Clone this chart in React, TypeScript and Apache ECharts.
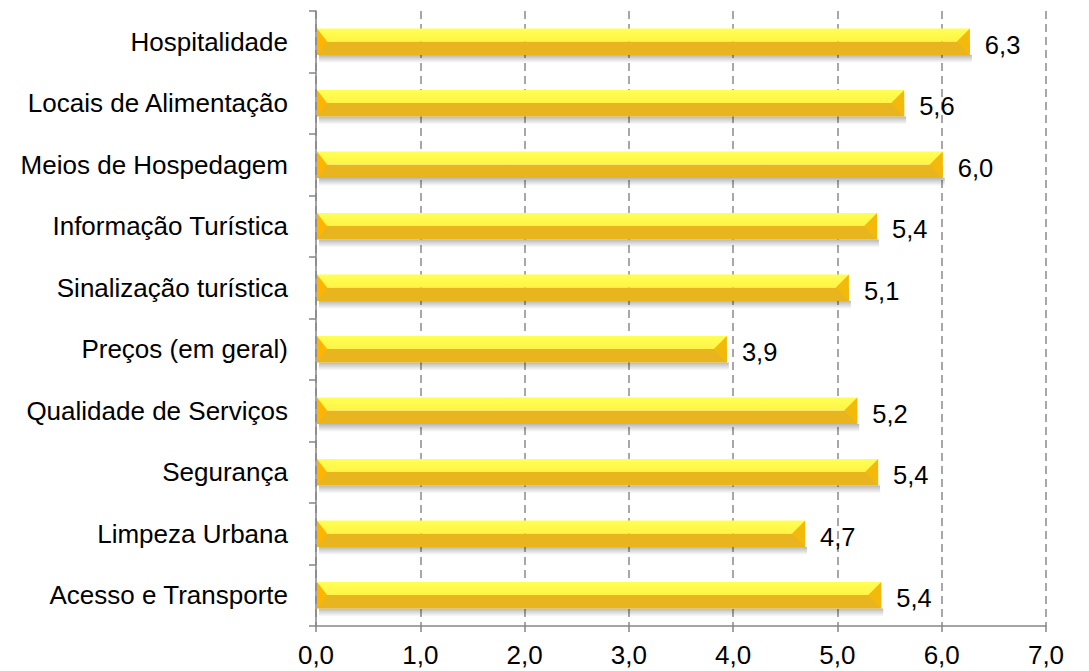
import React, { useEffect, useRef } from "react";
import * as echarts from "echarts";

const categories = [
  "Hospitalidade",
  "Locais de Alimentação",
  "Meios de Hospedagem",
  "Informação Turística",
  "Sinalização turística",
  "Preços (em geral)",
  "Qualidade de Serviços",
  "Segurança",
  "Limpeza Urbana",
  "Acesso e Transporte",
];
const values = [6.27, 5.64, 6.01, 5.38, 5.11, 3.94, 5.19, 5.39, 4.69, 5.42];
const xMin = 0;
const xMax = 7;
const xStep = 1;

const FONT = "'Liberation Sans', Arial, sans-serif";
const fmt = (v: number) => v.toFixed(1).replace(".", ",");

export default function App() {
  const ref = useRef<HTMLDivElement>(null);
  useEffect(() => {
    if (!ref.current) return;
    const chart = echarts.init(ref.current, null, { renderer: "svg" });
    const renderItem = (params: any, api: any) => {
      const idx = api.value(1);
      const v = api.value(0);
      const start = api.coord([0, idx]);
      const end = api.coord([v, idx]);
      const band = api.size([0, 1])[1];
      const h = band * 0.43;
      const cy = start[1];
      const top = cy - h / 2;
      const bottom = top + h;
      const mid = top + h * 0.49;
      const x0 = start[0] + 1;
      const x1 = end[0];
      return {
        type: "group",
        children: [
          {
            type: "rect",
            shape: { x: x0 + 2, y: bottom, width: x1 - x0, height: 8 },
            style: {
              fill: new echarts.graphic.LinearGradient(0, 0, 0, 1, [
                { offset: 0, color: "rgba(0,0,0,0.28)" },
                { offset: 1, color: "rgba(0,0,0,0)" },
              ]),
            },
          },
          {
            type: "rect",
            shape: { x: x0, y: mid, width: x1 - x0, height: bottom - mid },
            style: { fill: "#E9B51F" },
          },
          {
            type: "rect",
            shape: { x: x0, y: top, width: x1 - x0, height: mid - top },
            style: {
              fill: new echarts.graphic.LinearGradient(0, 0, 0, 1, [
                { offset: 0, color: "#FFFF55" },
                { offset: 1, color: "#FFF445" },
              ]),
            },
          },
          {
            type: "polygon",
            shape: { points: [[x0, top], [x0 + 10, mid], [x0, bottom]] },
            style: { fill: "#FFB500" },
          },
          {
            type: "polygon",
            shape: { points: [[x1, top], [x1 - 13, mid], [x1, bottom]] },
            style: { fill: "#F3BA0C" },
          },
          {
            type: "text",
            style: {
              text: fmt(v),
              x: x1 + 15,
              y: cy + 3,
              verticalAlign: "middle",
              align: "left",
              fontSize: 25.5,
              fontFamily: FONT,
              fill: "#000",
            },
          },
        ],
      };
    };
    chart.setOption({
      animation: false,
      grid: { left: 316, top: 11, right: 43, bottom: 45, containLabel: false },
      xAxis: {
        type: "value",
        min: xMin,
        max: xMax,
        interval: xStep,
        axisLine: { show: true, lineStyle: { color: "#868686", width: 1.5 } },
        axisTick: { show: true, length: 6, lineStyle: { color: "#868686", width: 1.5 } },
        axisLabel: {
          fontSize: 26,
          fontFamily: FONT,
          color: "#000",
          margin: 16,
          formatter: (v: number) => fmt(v),
        },
        splitLine: {
          show: true,
          lineStyle: { color: "#8A8A8A", width: 1.5, type: [8, 5] },
        },
      },
      yAxis: {
        type: "category",
        data: categories,
        inverse: true,
        axisLine: { show: true, lineStyle: { color: "#868686", width: 1.5 } },
        axisTick: { show: true, length: 7, lineStyle: { color: "#868686", width: 1.5 } },
        axisLabel: { fontSize: 26, fontFamily: FONT, color: "#000", margin: 28 },
        splitLine: { show: false },
      },
      series: [
        {
          type: "custom",
          renderItem,
          encode: { x: 0, y: 1 },
          data: values.map((v, i) => [v, i]),
          z: 3,
        },
      ],
    });
    return () => chart.dispose();
  }, []);
  return (
    <div
      ref={ref}
      style={{ position: "absolute", left: 0, top: 0, width: 1089, height: 671, background: "#fff" }}
    />
  );
}
